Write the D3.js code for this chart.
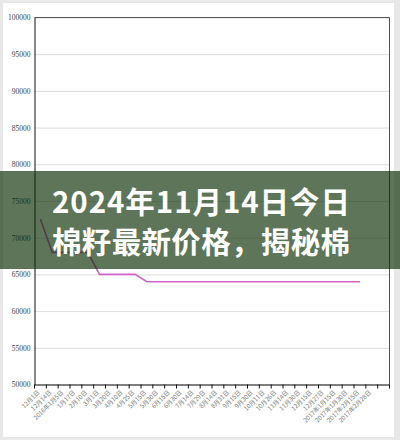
<!DOCTYPE html>
<html>
<head>
<meta charset="utf-8">
<script src="https://cdn.jsdelivr.net/npm/d3@7"></script>
<style>
  html, body { margin: 0; padding: 0; background: #e8e8e8; }
  svg { display: block; }
</style>
</head>
<body>
<svg id="chart" width="400" height="440"></svg>
<script>
// Categories (dates) along the x axis
const dates = [
  '12月1日', '12月14日', '2016年1月5日', '1月17日', '2月10日', '3月1日',
  '3月20日', '4月10日', '4月25日', '5月15日', '5月30日', '6月15日',
  '6月30日', '7月14日', '7月29日', '8月14日', '8月31日', '9月15日',
  '9月30日', '10月11日', '10月26日', '11月14日', '11月30日', '12月15日',
  '12月27日', '2017年1月15日', '2017年1月30日', '2017年2月15日', '2017年2月28日', ''
];

// Price per date (null = no value)
const prices = [
  72500, 68000, 68000, 68000, 68000, 65000, 65000, 65000, 65000, 64000,
  64000, 64000, 64000, 64000, 64000, 64000, 64000, 64000, 64000, 64000,
  64000, 64000, 64000, 64000, 64000, 64000, 64000, 64000, null, null
];

const yTicks = [50000, 55000, 60000, 65000, 70000, 75000, 80000, 85000, 90000, 95000, 100000];

const titleLines = ['2024年11月14日今日', '棉籽最新价格，揭秘棉'];

const width = 400, height = 440;
const plot = { left: 34.5, right: 389.5, top: 17.5, bottom: 384.5 };

const svg = d3.select('#chart');

// page background / white panel
svg.append('rect').attr('width', width).attr('height', height).attr('fill', '#e8e8e8');
svg.append('rect').attr('x', 3).attr('y', 3).attr('width', 391).attr('height', 434).attr('fill', '#fff');

const x = d3.scaleBand().domain(d3.range(dates.length)).range([plot.left, plot.right]);
const y = d3.scaleLinear().domain([50000, 100000]).range([plot.bottom, plot.top]);

// gridlines
svg.append('g')
  .attr('transform', `translate(${plot.left},0)`)
  .call(d3.axisLeft(y).tickValues(yTicks).tickSize(-(plot.right - plot.left)).tickFormat(''))
  .call(g => g.select('.domain').remove())
  .call(g => g.selectAll('line').attr('stroke', '#dedede'));

// plot frame (top + right)
svg.append('path')
  .attr('d', `M${plot.left},${plot.top}H${plot.right}V${plot.bottom}`)
  .attr('fill', 'none')
  .attr('stroke', '#555');

// y axis
svg.append('g')
  .attr('transform', `translate(${plot.left},0)`)
  .call(d3.axisLeft(y).tickValues(yTicks).tickSize(0).tickPadding(4).tickFormat(d3.format('d')))
  .call(g => g.select('.domain').attr('stroke', '#111'))
  .call(g => g.selectAll('text')
    .attr('fill', '#444')
    .style('font-family', '"Liberation Serif", serif')
    .style('font-size', '7.5px'));

// x axis: labels centred on categories, tick marks on boundaries
const xAxis = svg.append('g')
  .attr('transform', `translate(0,${plot.bottom})`)
  .call(d3.axisBottom(x).tickSize(0).tickFormat(i => dates[i]))
  .call(g => g.select('.domain').attr('stroke', '#111'));

xAxis.selectAll('.tick text')
  .attr('x', 0).attr('y', 0).attr('dy', '0.3em')
  .attr('transform', 'translate(-1.5,7) rotate(-45)')
  .style('text-anchor', 'end')
  .attr('fill', '#7a7a7a')
  .style('font-family', '"Noto Sans CJK SC", sans-serif')
  .style('font-size', '6.2px');

xAxis.selectAll('.bound')
  .data(d3.range(dates.length + 1))
  .enter()
  .append('line')
  .attr('class', 'bound')
  .attr('x1', i => i < dates.length ? x(i) : x(dates.length - 1) + x.bandwidth())
  .attr('x2', i => i < dates.length ? x(i) : x(dates.length - 1) + x.bandwidth())
  .attr('y1', 0).attr('y2', 4)
  .attr('stroke', '#111');

// price line
const line = d3.line()
  .defined(d => d != null)
  .x((d, i) => x(i) + x.bandwidth() / 2)
  .y(d => y(d));

svg.append('path')
  .datum(prices)
  .attr('d', line)
  .attr('fill', 'none')
  .attr('stroke', '#d064c6')
  .attr('stroke-width', 1.6);

// title banner overlay (dark green, semi-transparent)
svg.append('rect')
  .attr('x', 0).attr('y', 171)
  .attr('width', width).attr('height', 98)
  .attr('fill', 'rgb(8,43,0)')
  .attr('opacity', 0.65);

svg.selectAll('.title')
  .data(titleLines)
  .enter()
  .append('text')
  .attr('class', 'title')
  .attr('x', 52)
  .attr('y', (d, i) => 213 + i * 39.5)
  .attr('textLength', 298)
  .attr('lengthAdjust', 'spacing')
  .attr('fill', '#fff')
  .style('font-family', '"Noto Sans CJK SC", sans-serif')
  .style('font-weight', 700)
  .style('font-size', '29.5px')
  .text(d => d);
</script>
</body>
</html>
